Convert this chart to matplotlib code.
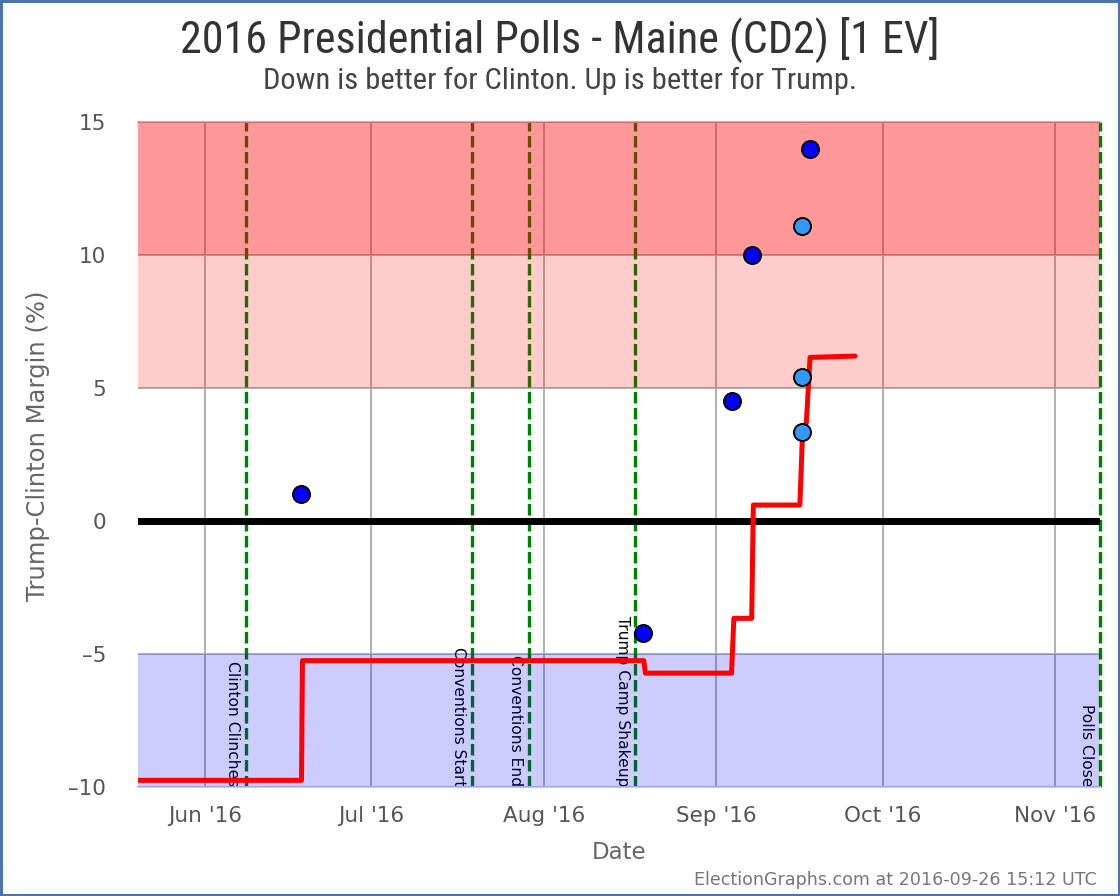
import matplotlib
matplotlib.use("Agg")
import matplotlib.pyplot as plt
import matplotlib.dates as mdates
from matplotlib import font_manager
from matplotlib.patches import Rectangle
import pandas as pd

# ---------------- data ----------------
title = "2016 Presidential Polls - Maine (CD2) [1 EV]"
subtitle = "Down is better for Clinton. Up is better for Trump."
footer = "ElectionGraphs.com at 2016-09-26 15:12 UTC"
x_label = "Date"
y_label = "Trump-Clinton Margin (%)"

poll_dates = ["2016-06-18 07:00", "2016-08-18 22:00", "2016-09-03 19:00",
              "2016-09-07 10:00", "2016-09-17 22:00"]
poll_margins = [1.0, -4.2, 4.5, 10.0, 14.0]

alt_poll_dates = ["2016-09-16 10:00", "2016-09-16 10:00", "2016-09-16 10:00"]
alt_poll_margins = [11.1, 5.4, 3.35]

avg_dates = ["2016-05-19 00:00", "2016-06-18 10:00", "2016-06-18 14:00",
             "2016-08-19 00:00", "2016-08-19 07:00", "2016-09-03 19:00",
             "2016-09-04 05:00", "2016-09-07 10:00", "2016-09-07 17:00",
             "2016-09-16 02:00", "2016-09-16 14:00", "2016-09-17 06:00",
             "2016-09-17 22:00", "2016-09-26 00:00"]
avg_margins = [-9.75, -9.75, -5.25, -5.25, -5.72, -5.72, -3.66, -3.66, 0.6,
               0.6, 3.4, 3.7, 6.15, 6.2]

event_dates = ["2016-06-08 10:00", "2016-07-19 02:00", "2016-07-29 07:00",
               "2016-08-17 12:00", "2016-11-09 02:00"]
event_labels = ["Clinton Clinches", "Conventions Start", "Conventions End",
                "Trump Camp Shakeup", "Polls Close"]

band_lows = [10, 5, -10]
band_highs = [15, 10, -5]
band_colors = ["#FF0000", "#FF0000", "#0000FF"]
band_alphas = [0.4, 0.2, 0.2]

x_start = "2016-05-20 00:00"
x_end = "2016-11-09 02:00"
y_ticks = [-10, -5, 0, 5, 10, 15]
month_ticks = ["2016-06-01", "2016-07-01", "2016-08-01", "2016-09-01",
               "2016-10-01", "2016-11-01"]

# ---------------- fonts ----------------
def find_condensed():
    prefs = ["LiberationSansNarrow-Regular", "RobotoCondensed-Regular",
             "DejaVuSansCondensed.ttf", "OpenSans_Condensed-Regular",
             "OpenSansCondensed"]
    files = [f.fname for f in font_manager.fontManager.ttflist]
    for p in prefs:
        for fn in files:
            if p in fn.split("/")[-1]:
                return font_manager.FontProperties(fname=fn)
    for fn in files:
        b = fn.split("/")[-1].lower()
        if ("condensed" in b or "narrow" in b) and "bold" not in b and "italic" not in b and "oblique" not in b:
            return font_manager.FontProperties(fname=fn)
    return font_manager.FontProperties(family="DejaVu Sans", stretch="condensed")

cond_fp = find_condensed()

W, H = 1120, 896
fig = plt.figure(figsize=(W / 100, H / 100), dpi=100)
ax = fig.add_axes([138 / W, 1 - 787 / H, (1100 - 138) / W, (787 - 122) / H])

to_dt = lambda s: pd.to_datetime(s)
pd_poll = to_dt(poll_dates)
pd_alt = to_dt(alt_poll_dates)
pd_avg = to_dt(avg_dates)
pd_ev = to_dt(event_dates)

# grid
ax.set_axisbelow(True)
ax.grid(True, color="#aaaaaa", lw=1.3, zorder=0.5)

# event lines + labels
for d, lab in zip(pd_ev, event_labels):
    ax.axvline(d, color="#008000", lw=2.4, dashes=(3.45, 1.35), zorder=2, clip_on=False)
    ax.annotate(lab, xy=(d, -10), xytext=(-13, 1), textcoords="offset pixels",
                rotation=270, ha="center", va="bottom", fontsize=11.2,
                color="black", zorder=2, clip_on=True, annotation_clip=False)

# bands
for lo, hi, c, a in zip(band_lows, band_highs, band_colors, band_alphas):
    ax.axhspan(lo, hi, color=c, alpha=a, lw=0, zorder=3)

# zero line
ax.axhline(0, color="black", lw=5, zorder=4)

# average line
ax.plot(pd_avg, avg_margins, color="#FF0000", lw=3.6, zorder=5,
        solid_capstyle="round", solid_joinstyle="round")

# polls
ax.scatter(pd_poll, poll_margins, s=150, color="#0000FF", edgecolors="black",
           linewidths=1.4, zorder=6)
ax.scatter(pd_alt, alt_poll_margins, s=150, color="#3399FF", edgecolors="black",
           linewidths=1.4, zorder=6)

ax.set_xlim(to_dt(x_start), to_dt(x_end))
ax.set_ylim(-10, 15)
ax.set_yticks(y_ticks)
ax.set_yticklabels([str(v) if v >= 0 else "\u2013" + str(-v) for v in y_ticks])
ax.set_xticks(to_dt(month_ticks))
ax.xaxis.set_major_formatter(mdates.DateFormatter("%b '%y"))
ax.tick_params(length=0, labelsize=15.5, labelcolor="#555555")
ax.tick_params(axis="y", pad=23)
ax.tick_params(axis="x", pad=14)

for s in ["left", "right"]:
    ax.spines[s].set_visible(False)
ax.spines["top"].set_color("#bbbbbb")
ax.spines["top"].set_linewidth(1.6)
ax.spines["bottom"].set_color("#c5cedb")
ax.spines["bottom"].set_linewidth(1.5)

# labels
fig.text(38 / W, 1 - 446 / H, y_label, rotation=90, ha="center", va="center",
         fontsize=17.5, color="#666666")
fig.text(619 / W, 1 - 852 / H, x_label, ha="center", va="center",
         fontsize=16.5, color="#666666")
fig.text(1097 / W, 1 - 880 / H, footer, ha="right", va="center",
         fontsize=12.6, color="#777777")

t1 = fig.text(0.5, 1 - 40 / H, title, ha="center", va="center",
              fontproperties=cond_fp, fontsize=28, color="#333333")
t2 = fig.text(0.5, 1 - 81 / H, subtitle, ha="center", va="center",
              fontproperties=cond_fp, fontsize=17, color="#444444")
fig.canvas.draw()
r = fig.canvas.get_renderer()
for t, target in ((t1, 758.0), (t2, 592.0)):
    w = t.get_window_extent(r).width
    t.set_fontsize(t.get_fontsize() * target / w)

# outer frame
fig.patches.append(Rectangle((0.001, 0.001), 0.998, 0.998, transform=fig.transFigure,
                             fill=False, edgecolor="#4a74aa", lw=2.2))

fig.savefig("out.png", dpi=100)
